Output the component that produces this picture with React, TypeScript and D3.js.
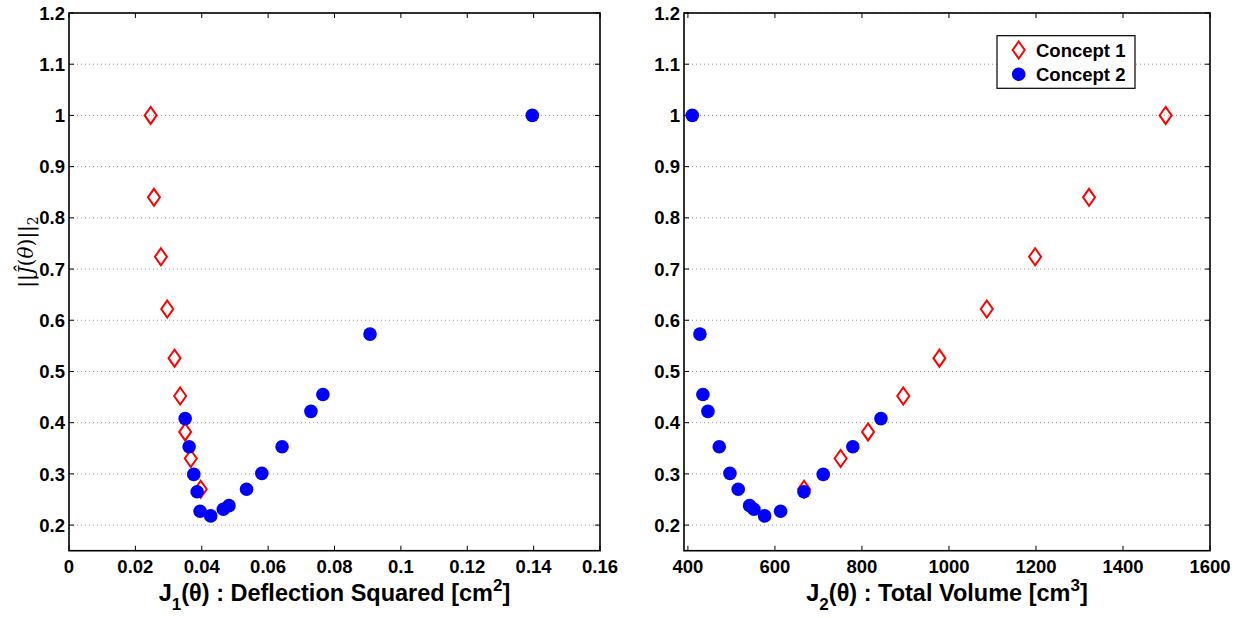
import React from "react";
import * as d3 from "d3";

// ---- data ----
const concept1Norm = [1.0, 0.84, 0.724, 0.622, 0.526, 0.452, 0.382, 0.33, 0.27];
const concept1J1 = [0.0246, 0.0256, 0.0277, 0.0296, 0.0318, 0.0335, 0.035, 0.0367, 0.0397];
const concept1J2 = [1498, 1322, 1198, 1087, 978, 895, 814, 751, 667];

const concept2Norm = [1.0, 0.573, 0.455, 0.422, 0.353, 0.301, 0.27, 0.238, 0.231, 0.218, 0.227, 0.265, 0.299, 0.353, 0.408];
const concept2J1 = [0.1396, 0.0907, 0.0765, 0.0729, 0.0642, 0.0581, 0.0535, 0.0482, 0.0465, 0.0427, 0.0395, 0.0386, 0.0376, 0.0362, 0.035];
const concept2J2 = [410, 427.6, 434.5, 446, 472, 496.6, 515.6, 541.8, 551.7, 576.3, 613, 666.7, 711, 779, 843.7];

const leftXTicks = [0, 0.02, 0.04, 0.06, 0.08, 0.1, 0.12, 0.14, 0.16];
const rightXTicks = [400, 600, 800, 1000, 1200, 1400, 1600];
const yTicks = [0.2, 0.3, 0.4, 0.5, 0.6, 0.7, 0.8, 0.9, 1.0, 1.1, 1.2];
const legendLabels = ["Concept 1", "Concept 2"];

const W = 1253;
const H = 618;
const TOP = 13;
const BOTTOM = 550.7;
const FONT = "'Liberation Sans', Arial, Helvetica, sans-serif";

const yScale = d3.scaleLinear().domain([0.15, 1.2]).range([BOTTOM, TOP]);

const fmt = (v: number) => String(+v.toFixed(2));

function Diamond({ x, y }: { x: number; y: number }) {
  const p = d3.path();
  p.moveTo(x, y - 8.5);
  p.lineTo(x + 6, y);
  p.lineTo(x, y + 8.5);
  p.lineTo(x - 6, y);
  p.closePath();
  return <path d={p.toString()} fill="none" stroke="#ff0000" strokeWidth={2} />;
}

function Panel({
  xScale,
  xTicks,
  j1,
  j2,
  title,
}: {
  xScale: d3.ScaleLinear<number, number>;
  xTicks: number[];
  j1: number[];
  j2: number[];
  title: React.ReactNode;
}) {
  const [x0, x1] = xScale.range();
  const tickLen = 5;
  return (
    <g>
      {/* grid */}
      {yTicks.map((t) => (
        <line
          key={"g" + t}
          x1={x0}
          x2={x1}
          y1={yScale(t)}
          y2={yScale(t)}
          stroke="#9a9a9a"
          strokeWidth={1}
          strokeDasharray="1,3"
        />
      ))}
      {/* ticks */}
      {yTicks.map((t) => (
        <g key={"yt" + t}>
          <line x1={x0} x2={x0 + tickLen} y1={yScale(t)} y2={yScale(t)} stroke="#000" strokeWidth={1} />
          <line x1={x1} x2={x1 - tickLen} y1={yScale(t)} y2={yScale(t)} stroke="#000" strokeWidth={1} />
          <text
            x={x0 - 4}
            y={yScale(t)}
            dy="0.36em"
            textAnchor="end"
            fontFamily={FONT}
            fontWeight="bold"
            fontSize={18.5}
          >
            {fmt(t)}
          </text>
        </g>
      ))}
      {xTicks.map((t) => (
        <g key={"xt" + t}>
          <line x1={xScale(t)} x2={xScale(t)} y1={BOTTOM} y2={BOTTOM - tickLen} stroke="#000" strokeWidth={1} />
          <line x1={xScale(t)} x2={xScale(t)} y1={TOP} y2={TOP + tickLen} stroke="#000" strokeWidth={1} />
          <text
            x={xScale(t)}
            y={573}
            textAnchor="middle"
            fontFamily={FONT}
            fontWeight="bold"
            fontSize={18.5}
          >
            {fmt(t)}
          </text>
        </g>
      ))}
      {/* data */}
      {j1.map((v, i) => (
        <Diamond key={"d" + i} x={xScale(v)} y={yScale(concept1Norm[i])} />
      ))}
      {j2.map((v, i) => (
        <circle key={"c" + i} cx={xScale(v)} cy={yScale(concept2Norm[i])} r={6.8} fill="#0000ff" />
      ))}
      {/* frame */}
      <rect x={x0} y={TOP} width={x1 - x0} height={BOTTOM - TOP} fill="none" stroke="#000" strokeWidth={1.6} />
      <text
        x={(x0 + x1) / 2}
        y={601}
        textAnchor="middle"
        fontFamily={FONT}
        fontWeight="bold"
        fontSize={23.5}
      >
        {title}
      </text>
    </g>
  );
}

export default function App() {
  const xLeft = d3.scaleLinear().domain([0, 0.16]).range([69, 600]);
  const xRight = d3.scaleLinear().domain([391, 1600]).range([684, 1210]);

  return (
    <svg
      width={W}
      height={H}
      viewBox={`0 0 ${W} ${H}`}
      style={{ position: "absolute", left: 0, top: 0, background: "#fff" }}
    >
      <rect x={0} y={0} width={W} height={H} fill="#fff" />
      <Panel
        xScale={xLeft}
        xTicks={leftXTicks}
        j1={concept1J1}
        j2={concept2J1}
        title={
          <>
            <tspan>J</tspan>
            <tspan dy={9} fontSize={17}>1</tspan>
            <tspan dy={-9}>(θ) : Deflection Squared [cm</tspan>
            <tspan dy={-10} fontSize={17}>2</tspan>
            <tspan dy={10}>]</tspan>
          </>
        }
      />
      <Panel
        xScale={xRight}
        xTicks={rightXTicks}
        j1={concept1J2}
        j2={concept2J2}
        title={
          <>
            <tspan>J</tspan>
            <tspan dy={9} fontSize={17}>2</tspan>
            <tspan dy={-9}>(θ) : Total Volume [cm</tspan>
            <tspan dy={-10} fontSize={17}>3</tspan>
            <tspan dy={10}>]</tspan>
          </>
        }
      />
      {/* y label */}
      <text
        transform="translate(33,252) rotate(-90)"
        textAnchor="middle"
        fontFamily="'DejaVu Serif', 'Liberation Serif', serif"
        fontSize={20}
      >
        <tspan>||</tspan>
        <tspan fontStyle="italic">Ĵ</tspan>
        <tspan>(</tspan>
        <tspan fontStyle="italic">θ</tspan>
        <tspan>)||</tspan>
        <tspan dy={5} fontSize={14}>2</tspan>
      </text>
      {/* legend */}
      <g>
        <rect x={997} y={35.7} width={138} height={52.6} fill="#fff" stroke="#000" strokeWidth={1.2} />
        <Diamond x={1018.7} y={50} />
        <text x={1036} y={50} dy="0.36em" fontFamily={FONT} fontWeight="bold" fontSize={18.5}>
          {legendLabels[0]}
        </text>
        <circle cx={1018.7} cy={74.3} r={6.8} fill="#0000ff" />
        <text x={1036} y={74.3} dy="0.36em" fontFamily={FONT} fontWeight="bold" fontSize={18.5}>
          {legendLabels[1]}
        </text>
      </g>
    </svg>
  );
}
